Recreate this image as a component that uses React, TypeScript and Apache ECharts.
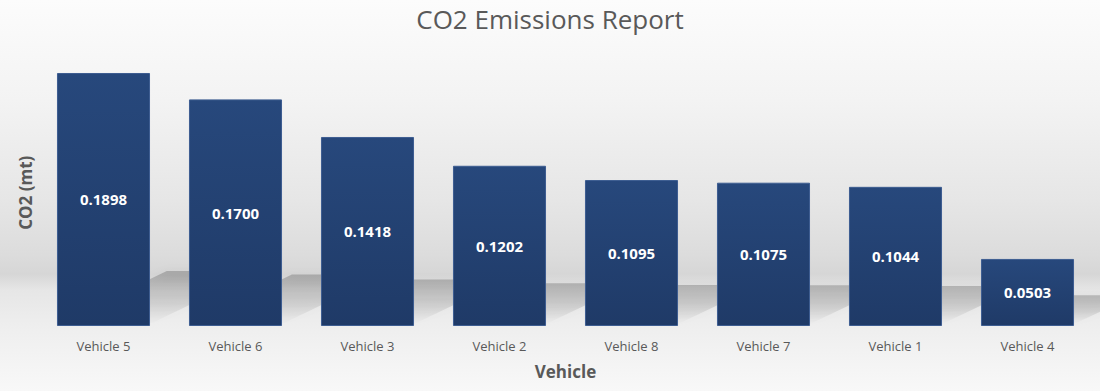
import React, { useEffect, useRef } from "react";
import * as echarts from "echarts";

const chartTitle = "CO2 Emissions Report";
const xAxisTitle = "Vehicle";
const yAxisTitle = "CO2 (mt)";
const categories = [
  "Vehicle 5",
  "Vehicle 6",
  "Vehicle 3",
  "Vehicle 2",
  "Vehicle 8",
  "Vehicle 7",
  "Vehicle 1",
  "Vehicle 4",
];
const emissions = [0.1898, 0.17, 0.1418, 0.1202, 0.1095, 0.1075, 0.1044, 0.0503];

const FONT = "'Open Sans', 'Noto Sans', sans-serif";
const BAR_RATIO = 0.705;

export default function App() {
  const ref = useRef<HTMLDivElement>(null);

  useEffect(() => {
    document.body.style.margin = "0";
    const chart = echarts.init(ref.current!, null, { renderer: "svg" });
    chart.setOption({
      animation: false,
      backgroundColor: "transparent",
      title: {
        text: chartTitle,
        left: "center",
        top: 1,
        textStyle: {
          fontFamily: FONT,
          fontSize: 26,
          fontWeight: "normal",
          color: "#595959",
        },
      },
      grid: { left: 37.5, right: 6.5, top: 59.4, bottom: 65 },
      xAxis: {
        type: "category",
        data: categories,
        name: xAxisTitle,
        nameLocation: "middle",
        nameGap: 37,
        nameTextStyle: {
          fontFamily: FONT,
          fontSize: 17,
          fontWeight: "bold",
          color: "#595959",
        },
        axisLine: { show: false },
        axisTick: { show: false },
        axisLabel: {
          margin: 13,
          fontFamily: FONT,
          fontSize: 13,
          color: "#595959",
        },
      },
      yAxis: {
        type: "value",
        min: 0,
        max: 0.2,
        name: yAxisTitle,
        nameLocation: "middle",
        nameGap: 4,
        nameRotate: 90,
        nameTextStyle: {
          fontFamily: FONT,
          fontSize: 17,
          fontWeight: "bold",
          color: "#595959",
        },
        axisLine: { show: false },
        axisTick: { show: false },
        axisLabel: { show: false },
        splitLine: { show: false },
      },
      series: [
        {
          type: "custom",
          z: 1,
          silent: true,
          data: emissions.map((v, i) => [i, v]),
          encode: { x: 0, y: 1 },
          renderItem: (params: any, api: any) => {
            const i = api.value(0);
            const v = api.value(1);
            const base = api.coord([i, 0]);
            const top = api.coord([i, v]);
            const band = api.size([1, 0])[0];
            const bw = band * BAR_RATIO;
            const xl = base[0] - bw / 2;
            const xr = base[0] + bw / 2;
            const y0 = base[1];
            const barH = y0 - top[1];
            const h = 22 + 0.13 * barH;
            const dx = 2 * h;
            return {
              type: "polygon",
              shape: {
                points: [
                  [xl, y0 - 2],
                  [xr, y0 - 2],
                  [xr + dx, y0 - h],
                  [xl + dx, y0 - h],
                ],
              },
              style: {
                fill: new echarts.graphic.LinearGradient(0, 0, 0, 1, [
                  { offset: 0, color: "rgba(0,0,0,0.2)" },
                  { offset: 0.5, color: "rgba(0,0,0,0.12)" },
                  { offset: 1, color: "rgba(0,0,0,0.0)" },
                ]),
                shadowBlur: 8,
                shadowColor: "rgba(0,0,0,0.18)",
              },
            };
          },
        },
        {
          type: "bar",
          z: 2,
          data: emissions,
          barWidth: BAR_RATIO * 100 + "%",
          itemStyle: {
            color: new echarts.graphic.LinearGradient(0, 0, 0, 1, [
              { offset: 0, color: "#27487c" },
              { offset: 1, color: "#1f3a67" },
            ]),
            borderColor: "#3d5d91",
            borderWidth: 1,
          },
          label: {
            show: true,
            position: "inside",
            formatter: (p: any) => Number(p.value).toFixed(4),
            color: "#ffffff",
            fontFamily: FONT,
            fontSize: 15,
            fontWeight: "bold",
          },
        },
      ],
    });
    return () => chart.dispose();
  }, []);

  return (
    <div
      ref={ref}
      style={{
        position: "absolute",
        left: 0,
        top: 0,
        width: 1100,
        height: 391,
        background:
          "linear-gradient(to bottom, #fcfcfc 0px, #f3f3f3 100px, #e6e6e6 200px, #dcdcdc 255px, #d6d6d6 274px, #e6e6e6 290px, #eeeeee 325px, #f8f8f8 391px)",
      }}
    />
  );
}
